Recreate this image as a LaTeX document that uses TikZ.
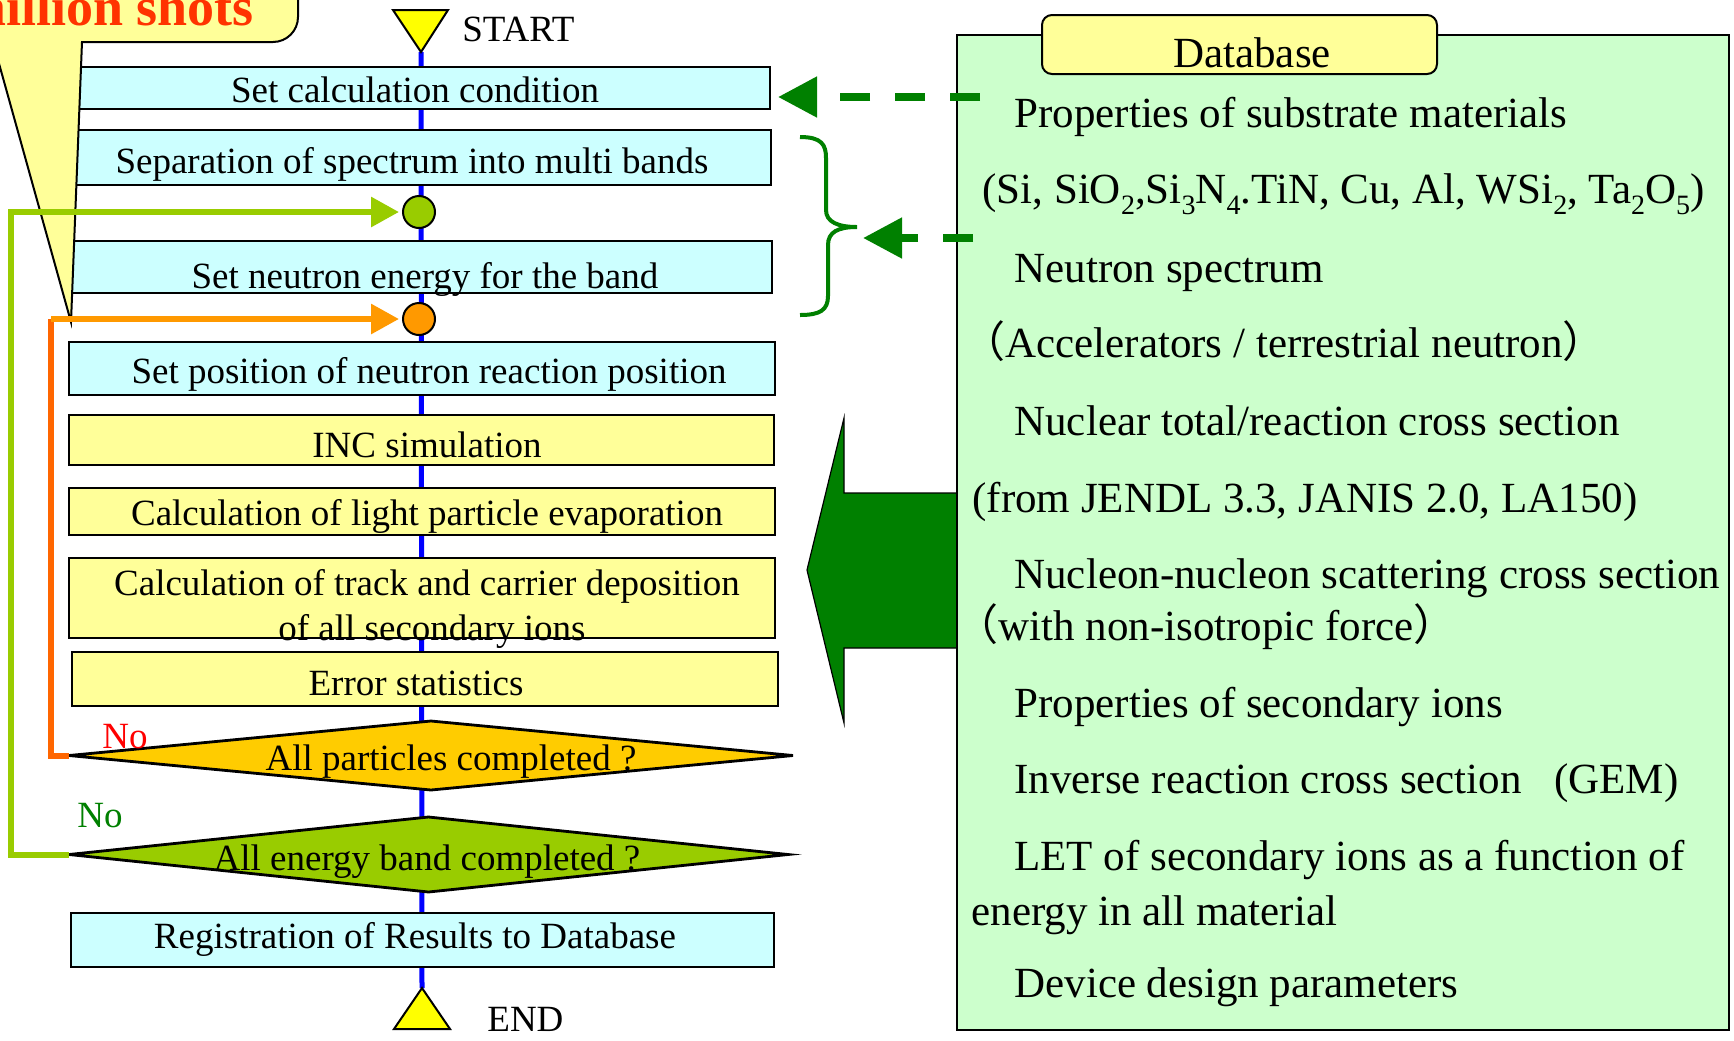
\documentclass[tikz,border=0pt]{standalone}
\usepackage{fontspec}
\setmainfont{Liberation Serif}
\newfontfamily\cjkfont{Noto Sans CJK SC}
\usetikzlibrary{shapes.geometric,arrows.meta}
\definecolor{cyanbox}{HTML}{CCFFFF}
\definecolor{ylbox}{HTML}{FFFF99}
\definecolor{dbgreen}{HTML}{CCFFCC}
\definecolor{dkgreen}{HTML}{008000}
\definecolor{lime}{HTML}{99CC00}
\definecolor{gold}{HTML}{FFCC00}
\definecolor{orA}{HTML}{FF9900}
\definecolor{orB}{HTML}{FF6600}
\definecolor{callred}{HTML}{FF3300}
\definecolor{flowblue}{HTML}{0000FF}
\definecolor{triyel}{HTML}{FFFF00}
\newcommand\fsflow{\fontsize{18.5}{22}\selectfont}
\newcommand\fsdb{\fontsize{21.5}{26}\selectfont}
\newcommand\fscall{\fontsize{27}{31}\selectfont\bfseries}
\newcommand\sbs[1]{\raisebox{-5.5pt}{\fontsize{14}{14}\selectfont #1}}
\begin{document}
\begin{tikzpicture}[x=0.5pt,y=-0.5pt,
  flowbox/.style={draw=black, line width=1.4pt, inner sep=0pt, outer sep=0pt},
  cbox/.style={flowbox, fill=cyanbox},
  ybox/.style={flowbox, fill=ylbox},
  ftext/.style={anchor=base, inner sep=0pt, font=\fsflow},
  dtext/.style={anchor=base west, inner sep=0pt, font=\fsdb},
  dia/.style={diamond, draw=black, line width=1.4pt, inner sep=0pt, outer sep=0pt},
  dot/.style={circle, draw=black, line width=1pt, minimum size=16pt, inner sep=0pt, outer sep=0pt},
  looptip/.style={-{Triangle[length=14pt,width=14.5pt]}},
  dasharrow/.style={draw=dkgreen, line width=4pt, dash pattern=on 15pt off 12.5pt, -{Triangle[length=19.5pt,width=19.5pt]}},
  tri/.style={fill=triyel, draw=black, line width=1pt, line join=miter}
]
\useasboundingbox (0,0) rectangle (1734,1040);
\clip (0,0) rectangle (1734,1040);
\fill[white] (0,0) rectangle (1734,1040);

% main axis
\coordinate (start) at (421,52);
\coordinate (end) at (422,988);
\draw[flowblue, line width=2.5pt] (start) -- (end);

% start / end triangles
\draw[tri] (393,10) -- (448,10) -- (start) -- cycle;
\node[anchor=base west, inner sep=0pt, font=\fsflow] (startt) at (462,41) {START};
\draw[tri] (394,1029) -- (450,1029) -- (end) -- cycle;
\node[anchor=base west, inner sep=0pt, font=\fsflow] (endt) at (487,1031) {END};

% boxes
\node[cbox, minimum width=350pt, minimum height=21pt] (b1) at (420,88) {};
\node[cbox, minimum width=350.5pt, minimum height=27.5pt] (b2) at (420.5,157.5) {};
\node[cbox, minimum width=351pt, minimum height=26pt] (b3) at (421,267) {};
\node[cbox, minimum width=353pt, minimum height=26.5pt] (b4) at (422,368.5) {};
\node[ybox, minimum width=352.5pt, minimum height=25pt] (b5) at (421.5,440) {};
\node[ybox, minimum width=353pt, minimum height=23.5pt] (b6) at (422,511.5) {};
\node[ybox, minimum width=353pt, minimum height=40pt] (b7) at (422,598) {};
\node[ybox, minimum width=353pt, minimum height=27pt] (b8) at (425,679) {};
\node[dia, fill=gold, minimum width=362pt, minimum height=34.5pt] (d1) at (431,755.5) {};
\node[dia, fill=lime, minimum width=359.5pt, minimum height=37.5pt] (d2) at (428.5,854.5) {};
\node[cbox, minimum width=351.5pt, minimum height=27pt] (b9) at (422.5,940) {};

% callout
\draw[fill=ylbox, draw=black, line width=1pt, line join=miter]
  (-40,-40) -- (298,-40) -- (298,17) arc[start angle=0, end angle=90, radius=25] -- (82,42) -- (71,322) -- (-7,42) -- (-40,42) -- cycle;
\node[anchor=base east, inner sep=0pt, font=\fscall, text=callred] (callt) at (254,25) {million shots};

% box texts
\node[ftext] (t1) at (415,102) {Set calculation condition};
\node[ftext] (t2) at (412,173) {Separation of spectrum into multi bands};
\node[ftext] (t3) at (425,288) {Set neutron energy for the band};
\node[ftext] (t4) at (429,383) {Set position of neutron reaction position};
\node[ftext] (t5) at (427,457) {INC simulation};
\node[ftext] (t6) at (427,525) {Calculation of light particle evaporation};
\node[ftext] (t7a) at (427,595) {Calculation of track and carrier deposition};
\node[ftext] (t7b) at (432,640) {of all secondary ions};
\node[ftext] (t8) at (416,695) {Error statistics};
\node[ftext] (td1) at (451,770) {All particles completed ?};
\node[ftext] (td2) at (427,870) {All energy band completed ?};
\node[ftext] (t9) at (415,948) {Registration of Results to Database};

% junction dots
\node[dot, fill=lime] (gc) at (419,212) {};
\node[dot, fill=orA] (oc) at (419,319) {};

% loops
\coordinate (oxl) at (51,0);
\coordinate (gxl) at (11,0);
\draw[orB, line width=3pt] (d1.west) -- (d1.west -| oxl) -- (oc.west -| oxl);
\draw[orA, line width=3pt, looptip, shorten >=2pt] (oc.west -| oxl) -- (oc.west);
\draw[lime, line width=3pt, looptip, shorten >=2pt] (d2.west) -- (d2.west -| gxl) -- (gc.west -| gxl) -- (gc.west);

\node[anchor=base west, inner sep=0pt, font=\fsflow, text=red] (no1) at (102,748) {No};
\node[anchor=base west, inner sep=0pt, font=\fsflow, text=dkgreen] (no2) at (77,827) {No};

% big arrow
\draw[fill=dkgreen, draw=black, line width=0.6pt, line join=miter]
  (962,493) -- (844,493) -- (844,418) -- (807,570) -- (844,723) -- (844,648) -- (962,648) -- cycle;

% database panel
\node[draw=black, line width=1pt, fill=dbgreen, minimum width=386pt, minimum height=497.5pt, inner sep=0pt] (db) at (1343,532.5) {};
\node[draw=black, line width=1pt, fill=ylbox, rounded corners=5pt, minimum width=197.5pt, minimum height=29.5pt, inner sep=0pt] (tab) at (1239.5,44.5) {};
\node[anchor=base, inner sep=0pt, font=\fsdb] (tabt) at (1252,67) {Database};

\node[dtext] (l1) at (1014,127) {Properties of substrate materials};
\node[dtext] (l2) at (982,203) {(Si, SiO\sbs{2},Si\sbs{3}N\sbs{4}.TiN, Cu, Al, WSi\sbs{2}, Ta\sbs{2}O\sbs{5})};
\node[dtext] (l3) at (1014,282) {Neutron spectrum};
\node[dtext] (l4) at (962,357) {{\cjkfont （}Accelerators / terrestrial neutron{\cjkfont ）}};
\node[dtext] (l5) at (1014,435) {Nuclear total/reaction cross section};
\node[dtext] (l6) at (972,512) {(from JENDL 3.3, JANIS 2.0, LA150)};
\node[dtext] (l7) at (1014,588) {Nucleon-nucleon scattering cross section};
\node[dtext] (l8) at (955,640) {{\cjkfont （}with non-isotropic force{\cjkfont ）}};
\node[dtext] (l9) at (1014,717) {Properties of secondary ions};
\node[dtext] (l10) at (1014,793) {Inverse reaction cross section\hspace{0.75em}(GEM)};
\node[dtext] (l11) at (1014,870) {LET of secondary ions as a function of};
\node[dtext] (l12) at (971,925) {energy in all material};
\node[dtext] (l13) at (1014,997) {Device design parameters};

% brace
\coordinate (bt) at (857,227);
\draw[dkgreen, line width=2pt]
  (800,137) .. controls (822,137) and (826,145) .. (826,158) -- (826,210)
  .. controls (826,222) and (838,227) .. (bt)
  .. controls (838,227) and (828,232) .. (828,245) -- (828,296)
  .. controls (828,310) and (820,315) .. (800,315);

% dashed arrows
\coordinate (da1) at (980,97);
\coordinate (da2) at (973,238);
\draw[dasharrow, shorten >=4pt] (da1) -- (da1 -| b1.east);
\draw[dasharrow, shorten >=3pt] (da2) -- (da2 -| bt);
\end{tikzpicture}
\end{document}
